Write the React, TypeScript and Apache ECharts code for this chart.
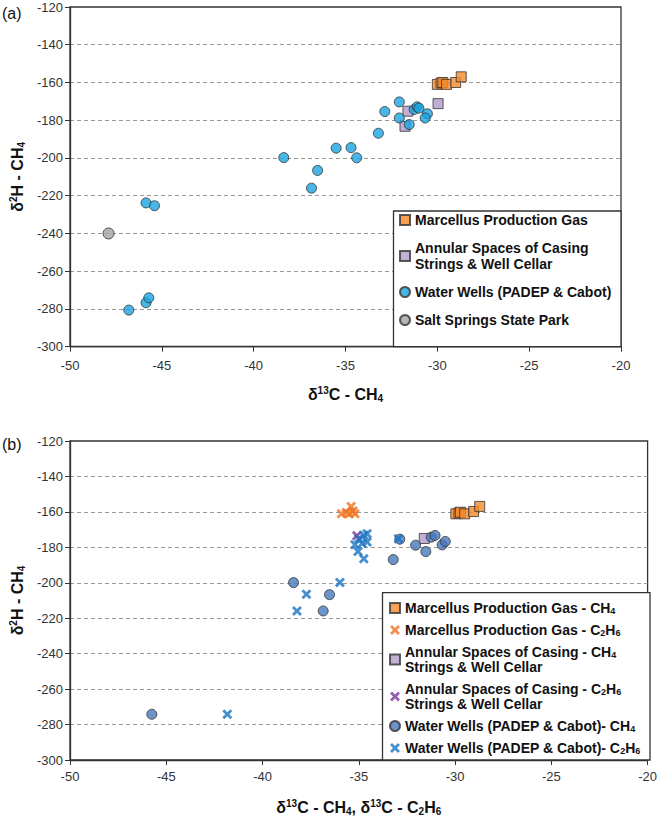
import React, { useEffect, useRef } from 'react';
import * as echarts from 'echarts';

// ---------- data ----------
// Panel (a): [δ13C-CH4, δ2H-CH4]
const marcellusA: number[][] = [[-30.0, -161], [-29.8, -160.3], [-29.7, -160], [-29.5, -161], [-29.0, -160], [-28.7, -157]];
const annularA: number[][] = [[-29.96, -171.2], [-31.6, -175.2], [-31.76, -183.2]];
const waterWellsA: number[][] = [
  [-46.8, -280.6], [-45.86, -276.7], [-45.71, -274.1], [-45.86, -223.8], [-45.4, -225.3],
  [-38.36, -199.8], [-36.85, -216.0], [-36.52, -206.6], [-35.51, -194.8], [-34.7, -194.5],
  [-34.39, -199.9], [-33.21, -186.9], [-32.86, -175.4], [-32.07, -170.3], [-32.07, -178.8],
  [-31.53, -182.3], [-31.26, -174.3], [-31.1, -172.9], [-31.0, -173.6], [-30.54, -176.6], [-30.66, -178.8],
];
const saltSpringsA: number[][] = [[-47.9, -240]];

// Panel (b): [δ13C (CH4 or C2H6), δ2H-CH4]
const marcellusCH4B: number[][] = [[-29.96, -161.1], [-29.8, -160.6], [-29.72, -160.2], [-29.5, -161.1], [-29.04, -159.8], [-28.72, -156.9]];
const marcellusC2H6B: number[][] = [[-35.9, -161], [-35.65, -160.3], [-35.5, -161], [-35.4, -157], [-35.3, -159.5], [-35.2, -161]];
const annularCH4B: number[][] = [[-31.6, -175.0]];
const annularC2H6B: number[][] = [[-35.1, -173.4]];
const waterWellsCH4B: number[][] = [
  [-45.75, -274.2], [-38.39, -199.9], [-36.52, -206.7], [-36.85, -215.9], [-33.21, -186.9],
  [-32.87, -175.4], [-32.05, -178.8], [-31.52, -182.4], [-31.24, -174.3], [-31.04, -173.3],
  [-30.67, -178.6], [-30.51, -176.7],
];
const waterWellsC2H6B: number[][] = [
  [-41.83, -274.2], [-38.21, -215.9], [-37.72, -206.5], [-35.98, -199.9], [-34.74, -186.4],
  [-35.04, -182.4], [-35.2, -178.5], [-34.83, -177.9], [-34.57, -177.0], [-35.0, -175.1],
  [-34.74, -173.2], [-34.57, -172.3], [-32.94, -175.1],
];

const xMin = -50, xMax = -20, xStep = 5;
const yMin = -300, yMax = -120, yStep = 20;

const namesA = ['Marcellus Production Gas', 'Annular Spaces of Casing Strings & Well Cellar', 'Water Wells (PADEP & Cabot)', 'Salt Springs State Park'];
const namesB = [
  'Marcellus Production Gas - CH4', 'Marcellus Production Gas - C2H6',
  'Annular Spaces of Casing - CH4 Strings & Well Cellar', 'Annular Spaces of Casing - C2H6 Strings & Well Cellar',
  'Water Wells (PADEP & Cabot)- CH4', 'Water Wells (PADEP & Cabot)- C2H6',
];
const legendLabels: Record<string, string> = {
  [namesA[0]]: 'Marcellus Production Gas',
  [namesA[1]]: 'Annular Spaces of Casing\nStrings & Well Cellar',
  [namesA[2]]: 'Water Wells (PADEP & Cabot)',
  [namesA[3]]: 'Salt Springs State Park',
  [namesB[0]]: 'Marcellus Production Gas - CH{s|4}',
  [namesB[1]]: 'Marcellus Production Gas - C{s|2}H{s|6}',
  [namesB[2]]: 'Annular Spaces of Casing - CH{s|4}\nStrings & Well Cellar',
  [namesB[3]]: 'Annular Spaces of Casing - C{s|2}H{s|6}\nStrings & Well Cellar',
  [namesB[4]]: 'Water Wells (PADEP & Cabot)- CH{s|4}',
  [namesB[5]]: 'Water Wells (PADEP & Cabot)- C{s|2}H{s|6}',
};

// ---------- styles ----------
const FONT = '"Liberation Sans", Arial, Helvetica, sans-serif';
const X_PATH = 'path://M0,2L2,0L5,3L8,0L10,2L7,5L10,8L8,10L5,7L2,10L0,8L3,5Z';
const C = {
  orange: '#F58A2C', lavender: '#B39BCB', cyan: '#1AA4E0', grey: '#A3A3A3',
  steel: '#4878BE', orangeX: '#EF7422', purpleX: '#7A35A0', blueX: '#1A73C2', edge: '#333333',
};

const W = 660, H = 821;
const gridA = { left: 66.7, top: 7, right: W - 621, height: 339.7 };
const gridB = { left: 66.7, top: 441, right: W - 650, height: 319 };

const nameRich = {
  p: { fontSize: 10, fontWeight: 'bold', color: '#111', lineHeight: 8, verticalAlign: 'top', fontFamily: FONT },
  s: { fontSize: 10, fontWeight: 'bold', color: '#111', lineHeight: 6, verticalAlign: 'bottom', fontFamily: FONT },
};
const nameStyle = { fontSize: 16, fontWeight: 'bold', color: '#111', lineHeight: 18, fontFamily: FONT, rich: nameRich };

function xAxis(gridIndex: number, name: string, labelMargin: number, nameGap: number) {
  return {
    type: 'value', gridIndex, min: xMin, max: xMax, interval: xStep,
    axisLine: { show: true, onZero: false, lineStyle: { color: C.edge, width: 1.3 } },
    axisTick: { show: true, length: 5, lineStyle: { color: C.edge, width: 1 } },
    axisLabel: { color: '#333', fontSize: 13, margin: labelMargin, fontFamily: FONT },
    splitLine: { show: false },
    name, nameLocation: 'middle', nameGap, nameTextStyle: nameStyle,
  };
}
function yAxis(gridIndex: number) {
  return {
    type: 'value', gridIndex, min: yMin, max: yMax, interval: yStep,
    axisLine: { show: true, onZero: false, lineStyle: { color: C.edge, width: 1.3 } },
    axisTick: { show: true, length: 5, lineStyle: { color: C.edge, width: 1 } },
    axisLabel: { color: '#333', fontSize: 13, margin: 7, fontFamily: FONT },
    splitLine: { show: true, showMinLine: false, showMaxLine: false, lineStyle: { color: '#999', type: [4, 3], width: 1 } },
    name: '{p|}δ{p|2}H - CH{s|4}', nameLocation: 'middle', nameGap: 44, nameTextStyle: nameStyle,
  };
}

function sc(name: string, data: number[][], idx: number, symbol: string, size: number, color: string, border: boolean) {
  return {
    type: 'scatter', name, data, xAxisIndex: idx, yAxisIndex: idx,
    symbol, symbolSize: size, symbolKeepAspect: true,
    itemStyle: border ? { color, borderColor: C.edge, borderWidth: 1 } : { color, borderWidth: 0 },
    emphasis: { disabled: true },
  };
}

function legend(data: any[], left: number, top: number, gap: number, lineHeight: number) {
  return {
    orient: 'vertical', left, top, padding: 0, itemGap: gap, itemWidth: 10, itemHeight: 10,
    selectedMode: false, z: 10, data,
    formatter: (n: string) => legendLabels[n] || n,
    textStyle: {
      fontSize: 14, fontWeight: 'bold', color: '#111', lineHeight, fontFamily: FONT,
      rich: { s: { fontSize: 9, fontWeight: 'bold', color: '#111', lineHeight: 6, verticalAlign: 'bottom', fontFamily: FONT } },
    },
  };
}

export default function App() {
  const ref = useRef<HTMLDivElement>(null);
  useEffect(() => {
    if (!ref.current) return;
    const chart = echarts.init(ref.current, null, { renderer: 'svg' });
    chart.setOption({
      animation: false,
      backgroundColor: '#fff',
      textStyle: { fontFamily: FONT },
      grid: [
        { ...gridA, show: true, borderColor: C.edge, borderWidth: 1.3, backgroundColor: 'transparent' },
        { ...gridB, show: true, borderColor: C.edge, borderWidth: 1.3, backgroundColor: 'transparent' },
      ],
      xAxis: [
        xAxis(0, '{p|}δ{p|13}C - CH{s|4}', 12, 39),
        xAxis(1, '{p|}δ{p|13}C - CH{s|4}, δ{p|13}C - C{s|2}H{s|6}', 10, 38),
      ],
      yAxis: [yAxis(0), yAxis(1)],
      legend: [
        legend([
          { name: namesA[0], icon: 'rect' },
          { name: namesA[1], icon: 'rect' },
          { name: namesA[2], icon: 'circle' },
          { name: namesA[3], icon: 'circle' },
        ], 399, 212, 12, 16),
        legend([
          { name: namesB[0], icon: 'rect' },
          { name: namesB[1], icon: X_PATH },
          { name: namesB[2], icon: 'rect' },
          { name: namesB[3], icon: X_PATH },
          { name: namesB[4], icon: 'circle' },
          { name: namesB[5], icon: X_PATH },
        ], 389, 600.5, 7, 15),
      ],
      graphic: [
        { type: 'rect', z: 5, shape: { x: 393.5, y: 211, width: 621 - 393.5, height: 346.7 - 211 }, style: { fill: '#fff', stroke: C.edge, lineWidth: 1.3 } },
        { type: 'rect', z: 5, shape: { x: 382.5, y: 592.7, width: 650 - 382.5, height: 760 - 592.7 }, style: { fill: '#fff', stroke: C.edge, lineWidth: 1.3 } },
        { type: 'text', x: 2, y: 5, z: 5, style: { text: '(a)', fontSize: 16, fill: '#111', fontFamily: FONT } },
        { type: 'text', x: 2, y: 436, z: 5, style: { text: '(b)', fontSize: 16, fill: '#111', fontFamily: FONT } },
      ],
      series: [
        sc(namesA[0], marcellusA, 0, 'rect', 10, C.orange, true),
        sc(namesA[1], annularA, 0, 'rect', 10, C.lavender, true),
        sc(namesA[2], waterWellsA, 0, 'circle', 10, C.cyan, true),
        sc(namesA[3], saltSpringsA, 0, 'circle', 11, C.grey, true),
        sc(namesB[0], marcellusCH4B, 1, 'rect', 10, C.orange, true),
        sc(namesB[1], marcellusC2H6B, 1, X_PATH, 10, C.orangeX, false),
        sc(namesB[2], annularCH4B, 1, 'rect', 10, C.lavender, true),
        sc(namesB[3], annularC2H6B, 1, X_PATH, 10, C.purpleX, false),
        sc(namesB[4], waterWellsCH4B, 1, 'circle', 10, C.steel, true),
        sc(namesB[5], waterWellsC2H6B, 1, X_PATH, 10, C.blueX, false),
      ],
    });
    return () => chart.dispose();
  }, []);
  return <div ref={ref} style={{ position: 'fixed', left: 0, top: 0, width: W, height: H, background: '#fff' }} />;
}
